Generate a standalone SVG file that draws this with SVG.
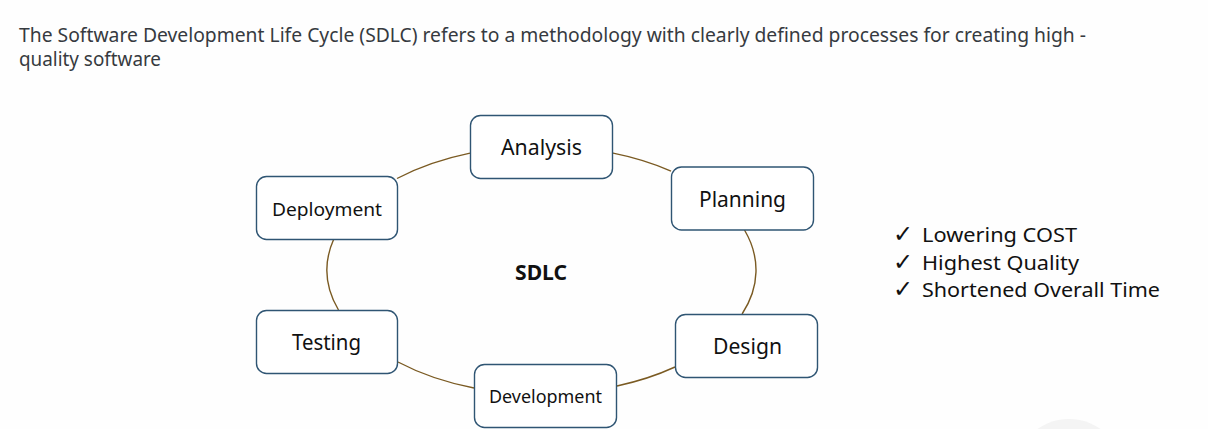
<svg xmlns="http://www.w3.org/2000/svg" width="1208" height="429" viewBox="0 0 1208 429">
  <style>
    .box { fill: #ffffff; stroke: #2f5573; stroke-width: 1.4; }
    .lbl { font-family: "Noto Sans", "Open Sans", sans-serif; fill: #111111; text-anchor: middle; }
    .big { font-size: 22px; }
    .small { font-size: 18px; }
    .conn { fill: none; stroke: #7a5a22; stroke-width: 1.4; }
    .title { font-family: "Noto Sans", "Open Sans", sans-serif; font-size: 19px; fill: #363a40; }
    .list { font-family: "Noto Sans", "Open Sans", sans-serif; font-size: 20.5px; fill: #111111; }
    .chk { font-family: "DejaVu Sans", sans-serif; font-size: 24px; fill: #111111; }
  </style>
  <rect width="1208" height="429" fill="#fefefe"/>
  <circle cx="1069" cy="474" r="55" fill="#f4f4f4"/>

  <g id="title">
    <text class="title" x="19" y="42" textLength="1067" lengthAdjust="spacingAndGlyphs">The Software Development Life Cycle (SDLC) refers to a methodology with clearly defined processes for creating high -</text>
    <text class="title" x="19" y="66" textLength="142" lengthAdjust="spacingAndGlyphs">quality software</text>
  </g>

  <g id="connectors">
    <path class="conn" d="M 612 152.9 A 214.5 124 0 0 1 671 171.1"/>
    <path class="conn" d="M 744.5 230 A 214.5 124 0 0 1 742.1 314"/>
    <path class="conn" d="M 675 367 A 214.5 124 0 0 1 617 386"/>
    <path class="conn" d="M 474 388 A 214.5 124 0 0 1 398 362"/>
    <path class="conn" d="M 338.5 310 A 214.5 124 0 0 1 333.8 239"/>
    <path class="conn" d="M 397 178.5 A 214.5 124 0 0 1 470 153.1"/>
  </g>

  <g id="node-analysis">
    <rect class="box" x="470.5" y="115.5" width="142" height="63" rx="10"/>
    <text class="lbl big" x="541.5" y="154.5" textLength="81" lengthAdjust="spacingAndGlyphs">Analysis</text>
  </g>
  <g id="node-planning">
    <rect class="box" x="671.5" y="167" width="142" height="63" rx="10"/>
    <text class="lbl big" x="742.5" y="206.5" textLength="87" lengthAdjust="spacingAndGlyphs">Planning</text>
  </g>
  <g id="node-design">
    <rect class="box" x="675.5" y="314.5" width="142" height="63" rx="10"/>
    <text class="lbl big" x="747.5" y="354" textLength="69" lengthAdjust="spacingAndGlyphs">Design</text>
  </g>
  <g id="node-development">
    <rect class="box" x="474.5" y="364.5" width="142" height="63" rx="10"/>
    <text class="lbl small" x="545.5" y="402.5" textLength="113" lengthAdjust="spacingAndGlyphs">Development</text>
  </g>
  <g id="node-testing">
    <rect class="box" x="256.5" y="310.5" width="141" height="63" rx="10"/>
    <text class="lbl big" x="326.5" y="350" textLength="69" lengthAdjust="spacingAndGlyphs">Testing</text>
  </g>
  <g id="node-deployment">
    <rect class="box" x="256.5" y="176.5" width="141" height="63" rx="10"/>
    <text class="lbl small" x="327" y="216" textLength="110" lengthAdjust="spacingAndGlyphs">Deployment</text>
  </g>
  <g id="center-label">
    <text class="lbl" x="541" y="279.5" font-size="21" font-weight="bold" textLength="52" lengthAdjust="spacingAndGlyphs">SDLC</text>
  </g>

  <g id="benefits">
    <text class="chk" x="893" y="242">✓</text>
    <text class="list" x="922" y="242" textLength="155" lengthAdjust="spacingAndGlyphs">Lowering COST</text>
    <text class="chk" x="893" y="270">✓</text>
    <text class="list" x="922" y="270" textLength="157" lengthAdjust="spacingAndGlyphs">Highest Quality</text>
    <text class="chk" x="893" y="297">✓</text>
    <text class="list" x="922" y="297" textLength="238" lengthAdjust="spacingAndGlyphs">Shortened Overall Time</text>
  </g>
</svg>
